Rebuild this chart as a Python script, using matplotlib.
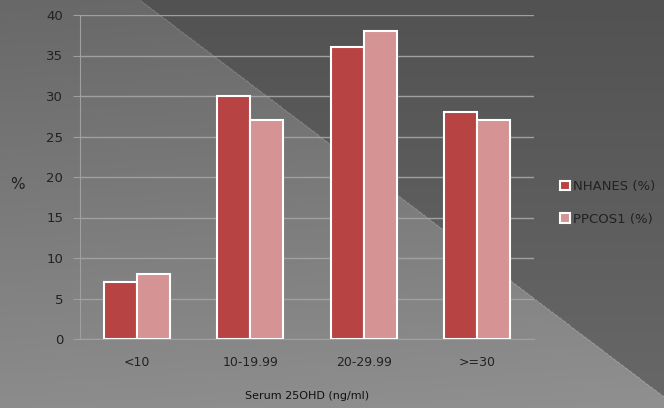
import numpy as np
import matplotlib
matplotlib.use("Agg")
import matplotlib.pyplot as plt

categories = ["<10", "10-19.99", "20-29.99", ">=30"]
nhanes = [7, 30, 36, 28]
ppcos1 = [8, 27, 38, 27]
series_names = ["NHANES (%)", "PPCOS1 (%)"]
yticks = [0, 5, 10, 15, 20, 25, 30, 35, 40]

plt.rcParams["font.family"] = ["DejaVu Sans"]

W, H = 664, 408
fig = plt.figure(figsize=(W / 100, H / 100), dpi=100)

# background: light gradient lower-left, darker triangle upper-right
yy, xx = np.mgrid[0:H, 0:W]
light = 104 + 36 * (yy / H) + 4 * (xx / W)
dark = 82 + 22 * (yy / H)
line_y = (xx - 140) * 0.757
bg = np.where(yy < line_y, dark, light)
edge = np.abs(yy - line_y) < 1.0
bg = np.where(edge & (xx > 140), bg + 15, bg)
bg = np.clip(bg, 0, 255) / 255.0
bg_ax = fig.add_axes([0, 0, 1, 1])
bg_ax.imshow(np.dstack([bg, bg, bg]), aspect="auto", extent=[0, 1, 0, 1])
bg_ax.axis("off")

ax = fig.add_axes([80 / W, 1 - 339 / H, (534 - 80) / W, (339 - 15) / H])
ax.patch.set_alpha(0)

x = np.arange(len(categories))
w = 0.29
ax.bar(x - w / 2, nhanes, w, color="#b84343", edgecolor="white", linewidth=1.5, label=series_names[0], zorder=3)
ax.bar(x + w / 2, ppcos1, w, color="#d59393", edgecolor="white", linewidth=1.5, label=series_names[1], zorder=3)

ax.set_xlim(-0.5, 3.5)
ax.set_ylim(0, 40)
ax.set_yticks(yticks)
ax.set_xticks(x)
ax.set_xticklabels(categories)
ax.grid(axis="y", color="#a0a0a0", linewidth=1, zorder=0)
ax.tick_params(axis="y", length=5, color="#a0a0a0", labelsize=9.5, labelcolor="#222222", pad=7)
ax.tick_params(axis="x", length=0, labelsize=9, labelcolor="#222222", pad=12)
for s in ["top", "right"]:
    ax.spines[s].set_visible(False)
ax.spines["left"].set_color("#a0a0a0")
ax.spines["bottom"].set_color("#a0a0a0")

ax.set_xlabel("Serum 25OHD (ng/ml)", fontsize=8, color="#111111", labelpad=16)
fig.text(17 / W, 1 - 185 / H, "%", fontsize=11, color="#222222", ha="center", va="center")

leg = fig.legend(loc="center left", bbox_to_anchor=(548 / W, 1 - 203 / H), frameon=False,
                 fontsize=9.5, handlelength=0.75, handleheight=0.75, handletextpad=0.25, labelspacing=1.5)
for t in leg.get_texts():
    t.set_color("#222222")
for p in leg.legend_handles:
    p.set_edgecolor("white")
    p.set_linewidth(1.5)

fig.savefig("out.png", dpi=100)
